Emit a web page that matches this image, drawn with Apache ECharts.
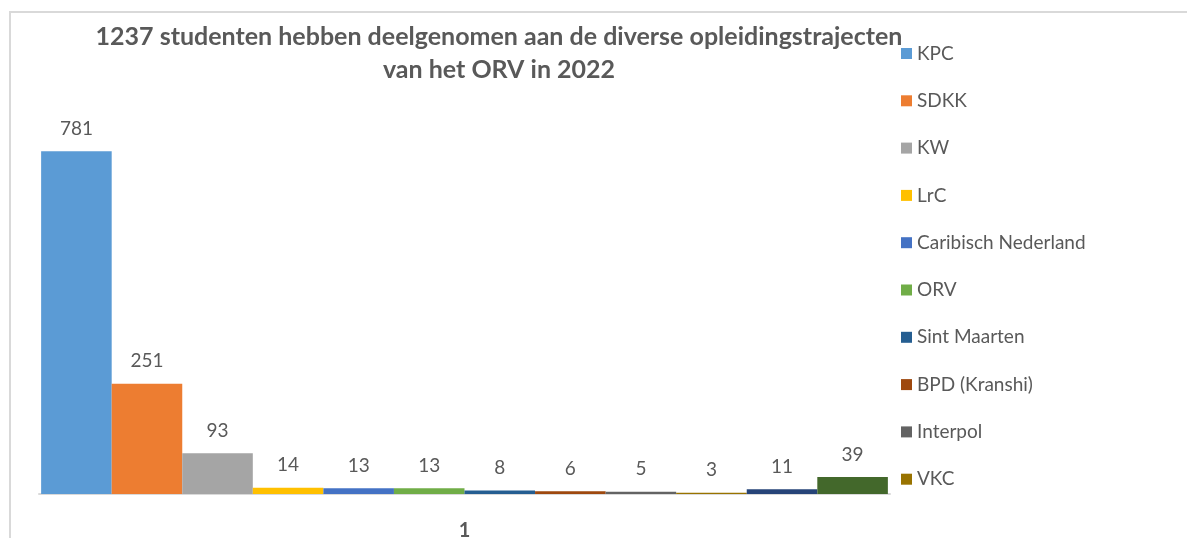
<!DOCTYPE html>
<html>
<head>
<meta charset="utf-8">
<script src="https://cdn.jsdelivr.net/npm/echarts@6/dist/echarts.min.js"></script>
<style>
  html, body { margin: 0; padding: 0; background: #fff; }
  #chart { width: 1187px; height: 538px; }
</style>
</head>
<body>
<div id="chart"></div>
<script>
// data
var categories = ['1'];
var seriesNames = ['KPC', 'SDKK', 'KW', 'LrC', 'Caribisch Nederland', 'ORV', 'Sint Maarten', 'BPD (Kranshi)', 'Interpol', 'VKC', 'Reeks 11', 'Reeks 12'];
var seriesValues = [781, 251, 93, 14, 13, 13, 8, 6, 5, 3, 11, 39];
var legendNames = seriesNames.slice(0, 10);
var colors = ['#5B9BD5', '#ED7D31', '#A5A5A5', '#FFC000', '#4472C4', '#70AD47', '#255E91', '#9E480E', '#636363', '#997300', '#264478', '#43682B'];

var fontFam = 'Lato, "Noto Sans", sans-serif';
var chart = echarts.init(document.getElementById('chart'));

var series = seriesNames.map(function (name, i) {
  return {
    name: name,
    type: 'bar',
    data: [seriesValues[i]],
    barGap: '0%',
    barCategoryGap: '0.5%',
    itemStyle: { color: colors[i] },
    label: {
      show: true,
      position: 'top',
      distance: 13,
      color: '#595959',
      fontSize: 19,
      fontFamily: fontFam
    }
  };
});

var option = {
  animation: false,
  color: colors,
  graphic: [{
    type: 'rect',
    shape: { x: 10, y: 12, width: 1300, height: 700 },
    style: { fill: 'none', stroke: '#D9D9D9', lineWidth: 2 },
    silent: true
  }],
  title: {
    text: '1237 studenten hebben deelgenomen aan de diverse opleidingstrajecten\nvan het ORV in 2022',
    left: 494,
    top: 15,
    textAlign: 'center',
    textStyle: {
      color: '#595959',
      fontSize: 25,
      fontWeight: 'bold',
      fontFamily: fontFam,
      lineHeight: 33
    }
  },
  legend: {
    data: legendNames,
    orient: 'vertical',
    left: 896,
    top: 39,
    itemGap: 28.3,
    itemWidth: 11,
    itemHeight: 11,
    icon: 'rect',
    textStyle: { color: '#595959', fontSize: 19, fontFamily: fontFam }
  },
  grid: { left: 39, right: 297, top: 99, bottom: 44, outerBoundsMode: 'none' },
  xAxis: {
    type: 'category',
    data: categories,
    axisLine: { lineStyle: { color: '#D9D9D9', width: 2 } },
    axisTick: { show: false },
    axisLabel: {
      color: '#595959',
      fontSize: 20,
      fontWeight: 'bold',
      fontFamily: fontFam,
      margin: 27
    }
  },
  yAxis: {
    type: 'value',
    min: 0,
    max: 900,
    show: false
  },
  series: series
};

chart.setOption(option);
</script>
</body>
</html>
